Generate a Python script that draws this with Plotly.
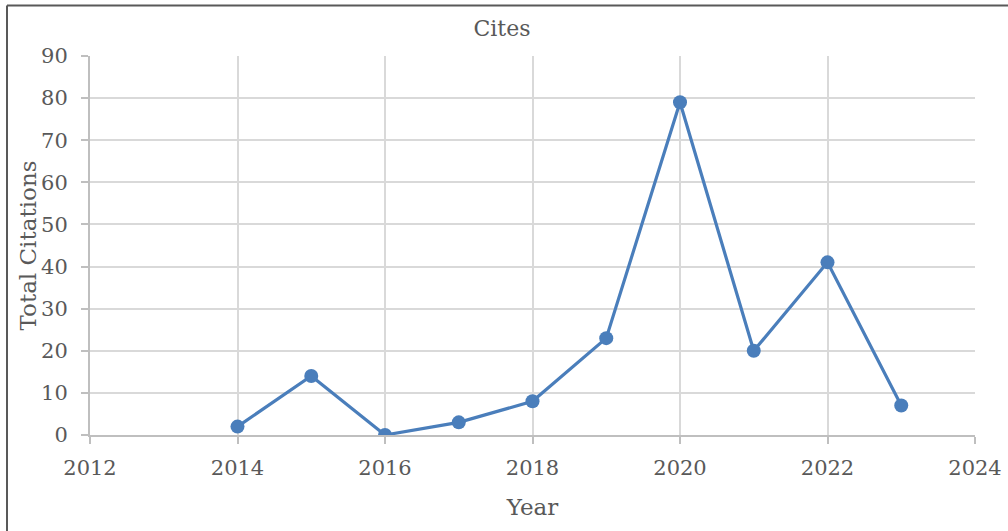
import plotly.graph_objects as go

years = [2014, 2015, 2016, 2017, 2018, 2019, 2020, 2021, 2022, 2023]
citations = [2, 14, 0, 3, 8, 23, 79, 20, 41, 7]

x_ticks = [2012, 2014, 2016, 2018, 2020, 2022, 2024]
y_ticks = [0, 10, 20, 30, 40, 50, 60, 70, 80, 90]

W, H = 1008, 531
L, R, T, B = 90, 33, 56, 96
pw, ph = W - L - R, H - T - B

font_family = "DejaVu Serif"
text_color = "#595959"
grid_color = "#d9d9d9"
axis_color = "#bfbfbf"
line_color = "#4a7ebb"

fig = go.Figure()
fig.add_trace(go.Scatter(
    x=years, y=citations, mode="lines+markers",
    line=dict(color=line_color, width=3.2),
    marker=dict(color=line_color, size=14),
    showlegend=False,
))

fig.update_layout(
    width=W, height=H,
    margin=dict(l=L, r=R, t=T, b=B, autoexpand=False),
    paper_bgcolor="white", plot_bgcolor="white",
    font=dict(family=font_family, color=text_color, size=21),
    title=dict(text="Cites", x=502 / W, xanchor="center", y=1 - 28 / H,
               yanchor="middle", font=dict(size=22, color=text_color)),
    xaxis=dict(
        range=[2012, 2024], tickvals=x_ticks, ticktext=[str(v) for v in x_ticks],
        showgrid=True, gridcolor=grid_color, gridwidth=2,
        showline=True, linecolor=axis_color, linewidth=2,
        ticks="outside", ticklen=7, tickcolor=axis_color, tickwidth=2,
        ticklabelstandoff=6,
        zeroline=False,
        title=dict(text="Year", font=dict(size=23), standoff=20),
    ),
    yaxis=dict(
        range=[0, 90], tickvals=y_ticks,
        showgrid=True, gridcolor=grid_color, gridwidth=2,
        showline=True, linecolor=axis_color, linewidth=2,
        ticks="outside", ticklen=7, tickcolor=axis_color, tickwidth=2,
        ticklabelstandoff=9,
        zeroline=False,
    ),
)

# vertical axis title, placed just left of the tick labels
fig.add_annotation(
    text="Total Citations", textangle=-90, showarrow=False,
    xref="paper", yref="paper", x=(27 - L) / pw, y=0.5,
    xanchor="center", yanchor="middle", font=dict(size=23, color=text_color),
)

# chart frame (left and top edges)
bx = (7 - L) / pw
by = 1 + (T - 5.5) / ph
fig.add_shape(type="line", xref="paper", yref="paper", x0=bx, x1=bx,
              y0=by, y1=-1, line=dict(color="#595959", width=2))
fig.add_shape(type="line", xref="paper", yref="paper", x0=bx, x1=2,
              y0=by, y1=by, line=dict(color="#595959", width=2))

fig.write_html("out.html")
